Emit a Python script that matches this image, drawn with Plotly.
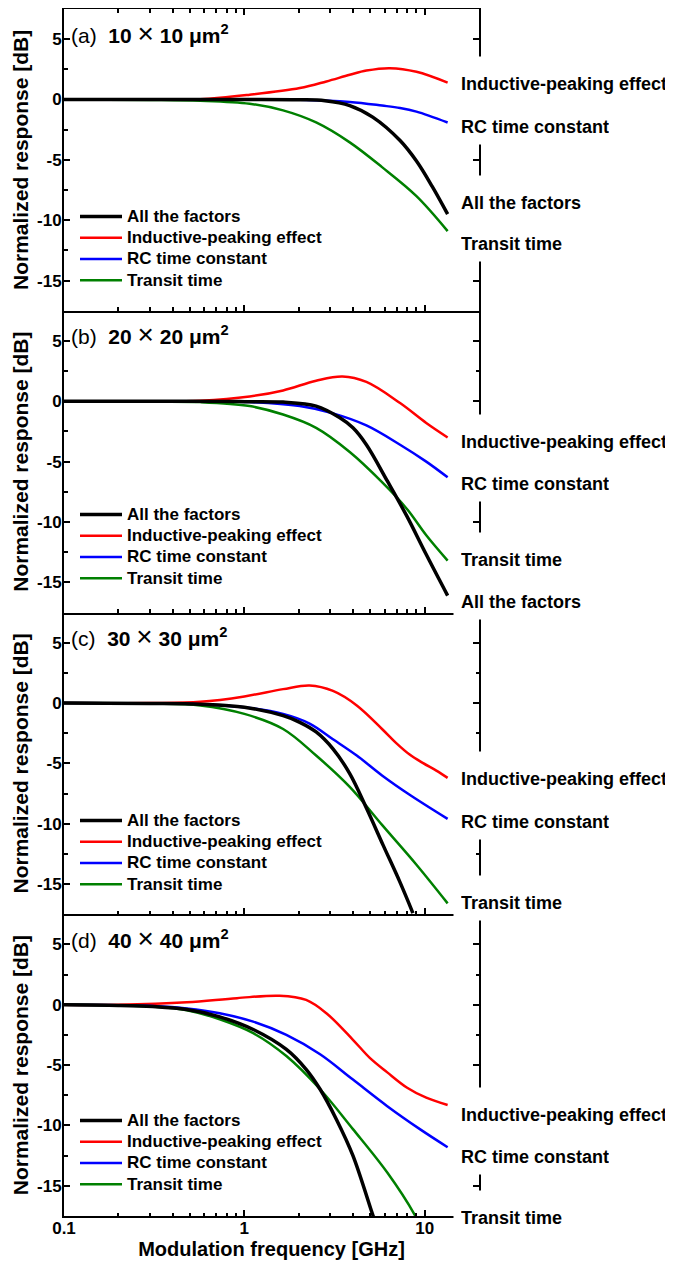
import math
import plotly.graph_objects as go

# ---------------- data ----------------
series_names = ["All the factors", "Inductive-peaking effect", "RC time constant", "Transit time"]
panel_tags = ["(a)", "(b)", "(c)", "(d)"]
panel_sizes = ["10", "20", "30", "40"]
x_tick_vals = [0.1, 1, 10]
x_tick_text = ["0.1", "1", "10"]
y_tick_vals = [-15, -10, -5, 0, 5]
y_tick_text = ["-15", "-10", "-5", "0", "5"]

# panel (a) 10x10 um^2
a_all_freq = [0.1, 0.3, 1.0, 2.0, 2.8, 3.84, 5.15, 7.3, 9.0, 11.0, 13.4]
a_all_db = [0.0, 0.0, 0.0, -0.02, -0.1, -0.5, -1.46, -3.4, -5.1, -7.2, -9.5]
a_ind_freq = [0.1, 0.3, 0.57, 1.07, 2.03, 2.85, 3.84, 4.75, 6.4, 9.0, 13.4]
a_ind_db = [0.0, 0.0, 0.02, 0.4, 0.95, 1.5, 2.05, 2.4, 2.6, 2.3, 1.4]
a_rc_freq = [0.1, 0.5, 1.0, 2.03, 3.84, 5.8, 7.3, 9.0, 13.4]
a_rc_db = [0.0, 0.0, 0.0, -0.02, -0.2, -0.5, -0.7, -1.0, -1.9]
a_tt_freq = [0.1, 0.3, 0.57, 1.07, 1.64, 2.5, 3.84, 5.8, 9.0, 13.4]
a_tt_db = [0.0, -0.03, -0.1, -0.35, -0.9, -1.9, -3.55, -5.6, -8.0, -10.9]

# panel (b) 20x20 um^2
b_all_freq = [0.1, 0.5, 1.0, 1.64, 2.5, 3.37, 4.0, 4.75, 6.2, 7.95, 10.2, 13.4]
b_all_db = [0.0, 0.0, -0.03, -0.07, -0.4, -1.35, -2.2, -3.6, -6.6, -9.5, -12.7, -16.1]
b_ind_freq = [0.1, 0.3, 0.57, 1.07, 1.64, 2.5, 3.5, 4.75, 7.3, 10.2, 13.4]
b_ind_db = [0.0, 0.0, 0.05, 0.4, 0.9, 1.7, 2.05, 1.6, -0.15, -1.8, -3.0]
b_rc_freq = [0.1, 0.5, 1.07, 2.03, 3.1, 4.75, 7.3, 10.2, 13.4]
b_rc_db = [0.0, -0.02, -0.07, -0.4, -1.0, -2.0, -3.6, -5.0, -6.3]
b_tt_freq = [0.1, 0.3, 0.57, 1.07, 1.64, 2.5, 3.84, 5.8, 7.95, 10.2, 13.4]
b_tt_db = [0.0, -0.03, -0.07, -0.4, -1.1, -2.2, -4.2, -6.7, -8.9, -11.1, -13.2]

# panel (c) 30x30 um^2
c_all_freq = [0.1, 0.3, 0.57, 1.0, 1.64, 2.03, 2.5, 3.1, 3.84, 4.75, 5.87, 7.27, 8.6]
c_all_db = [0.0, -0.03, -0.1, -0.35, -1.05, -1.6, -2.4, -3.8, -5.85, -8.7, -11.75, -14.8, -17.4]
c_ind_freq = [0.1, 0.3, 0.57, 1.0, 1.64, 2.3, 3.1, 4.2, 5.8, 6.93, 8.25, 9.8, 11.6, 13.4]
c_ind_db = [0.0, 0.0, 0.1, 0.55, 1.15, 1.45, 1.0, -0.2, -2.15, -3.3, -4.27, -4.98, -5.6, -6.2]
c_rc_freq = [0.1, 0.3, 0.57, 1.0, 1.64, 2.3, 3.1, 4.2, 5.8, 8.25, 13.4]
c_rc_db = [0.0, -0.03, -0.1, -0.35, -0.9, -1.7, -3.0, -4.35, -6.0, -7.6, -9.6]
c_tt_freq = [0.1, 0.3, 0.57, 1.0, 1.64, 2.5, 3.84, 5.8, 9.0, 13.4]
c_tt_db = [0.0, -0.05, -0.2, -0.9, -2.15, -4.35, -6.95, -10.1, -13.4, -16.6]

# panel (d) 40x40 um^2
d_all_freq = [0.1, 0.2, 0.31, 0.48, 0.73, 1.12, 1.71, 2.2, 2.63, 3.24, 4.0, 5.15, 5.3]
d_all_db = [0.0, -0.05, -0.15, -0.4, -1.0, -2.05, -3.7, -5.35, -7.0, -9.5, -12.5, -17.4, -17.9]
d_ind_freq = [0.1, 0.2, 0.48, 0.91, 1.57, 2.2, 2.85, 4.0, 4.96, 6.2, 7.95, 10.2, 13.4]
d_ind_db = [0.0, 0.0, 0.2, 0.55, 0.75, 0.4, -0.7, -2.9, -4.4, -5.6, -6.85, -7.7, -8.3]
d_rc_freq = [0.1, 0.2, 0.31, 0.48, 0.73, 1.12, 1.71, 2.63, 4.0, 6.2, 9.4, 13.4]
d_rc_db = [0.0, -0.03, -0.1, -0.3, -0.7, -1.4, -2.5, -4.1, -6.2, -8.4, -10.3, -11.8]
d_tt_freq = [0.1, 0.2, 0.31, 0.48, 0.73, 1.12, 1.71, 2.63, 4.0, 6.2, 8.8, 9.0]
d_tt_db = [0.0, -0.05, -0.15, -0.45, -1.2, -2.35, -4.25, -7.0, -10.3, -13.9, -17.4, -17.7]

panels = [
    {"all": (a_all_freq, a_all_db), "ind": (a_ind_freq, a_ind_db), "rc": (a_rc_freq, a_rc_db), "tt": (a_tt_freq, a_tt_db)},
    {"all": (b_all_freq, b_all_db), "ind": (b_ind_freq, b_ind_db), "rc": (b_rc_freq, b_rc_db), "tt": (b_tt_freq, b_tt_db)},
    {"all": (c_all_freq, c_all_db), "ind": (c_ind_freq, c_ind_db), "rc": (c_rc_freq, c_rc_db), "tt": (c_tt_freq, c_tt_db)},
    {"all": (d_all_freq, d_all_db), "ind": (d_ind_freq, d_ind_db), "rc": (d_rc_freq, d_rc_db), "tt": (d_tt_freq, d_tt_db)},
]

# end-of-curve labels (text, dB position) per panel
right_labels = [
    [("Inductive-peaking effect", 1.33), ("RC time constant", -2.24), ("All the factors", -8.53), ("Transit time", -11.93)],
    [("Inductive-peaking effect", -3.33), ("RC time constant", -6.78), ("Transit time", -13.13), ("All the factors", -16.59)],
    [("Inductive-peaking effect", -6.3), ("RC time constant", -9.83), ("Transit time", -16.51)],
    [("Inductive-peaking effect", -9.06), ("RC time constant", -12.6), ("Transit time", -17.67)],
]

# ---------------- styling ----------------
FONT = "Liberation Sans, Arial, Helvetica, sans-serif"
PAGE_OFF = 8                      # default body margin of the html page
W, H = 673 - PAGE_OFF, 1264 - PAGE_OFF
PL, PR, PT, PB = 64, 479, 9, 1216  # plot area in page pixels
ML, MR, MT, MB = PL - PAGE_OFF, W - (PR - PAGE_OFF), PT - PAGE_OFF, H - (PB - PAGE_OFF)
PW = PR - PL
PH = PB - PT
PANEL_H = PH / 4.0
PX_PER_DB = PANEL_H / 25.0

styles = {
    "all": dict(color="#000000", width=3.5, rank=1, name=series_names[0]),
    "ind": dict(color="#ff0000", width=2.5, rank=2, name=series_names[1]),
    "rc": dict(color="#0000ff", width=2.5, rank=3, name=series_names[2]),
    "tt": dict(color="#008000", width=2.5, rank=4, name=series_names[3]),
}
draw_order = ["ind", "rc", "tt", "all"]

fig = go.Figure()

legend_row1_px = [216, 514, 820, 1120]

for i, pdata in enumerate(panels):
    suf = "" if i == 0 else str(i + 1)
    leg = "legend" + suf
    for key in draw_order:
        st = styles[key]
        fx, fy = pdata[key]
        fig.add_trace(go.Scatter(
            x=fx, y=fy, mode="lines",
            line=dict(color=st["color"], width=st["width"], shape="spline", smoothing=1.0),
            name='<span style="font-size:17px">' + st["name"] + "</span>",
            legend=leg, legendrank=st["rank"],
            xaxis="x" + suf, yaxis="y" + suf,
            hoverinfo="skip",
        ))

layout = dict(
    width=W, height=H,
    margin=dict(l=ML, r=MR, t=MT, b=MB, pad=0, autoexpand=False),
    paper_bgcolor="white", plot_bgcolor="white",
    font=dict(family=FONT, color="black"),
    showlegend=True,
)

minor_x = [0.2, 0.3, 0.4, 0.5, 0.6, 0.7, 0.8, 0.9, 2, 3, 4, 5, 6, 7, 8, 9]
minor_y = [-17.5, -12.5, -7.5, -2.5, 2.5, 7.5]

annotations = []
x_lab = (452.5 - PL) / PW * (math.log10(20) + 1) - 1
for i in range(4):
    suf = "" if i == 0 else str(i + 1)
    top = 1 - i * 0.25
    bot = top - 0.25
    layout["yaxis" + suf] = dict(
        domain=[bot, top], anchor="x" + suf, automargin=False,
        range=[-17.5, 7.5],
        tickmode="array", tickvals=y_tick_vals, ticktext=y_tick_text,
        ticks="inside", ticklen=6, tickwidth=1.5, tickcolor="black",
        minor=dict(tickmode="array", tickvals=minor_y, ticks="inside", ticklen=3.5, tickwidth=1.5, tickcolor="black", showgrid=False),
        showline=True, linecolor="black", linewidth=2, mirror="ticks",
        showgrid=False, zeroline=False, ticklabelstandoff=-3,
        tickfont=dict(family=FONT, size=17, color="black", weight="bold"),
        title=dict(text="Normalized response [dB]", standoff=3,
                   font=dict(family=FONT, size=21, color="black", weight="bold")),
    )
    xa = dict(
        domain=[0, 1], anchor="y" + suf, automargin=False,
        type="log", range=[-1, math.log10(20)],
        tickmode="array", tickvals=x_tick_vals, ticktext=x_tick_text,
        ticks="inside", ticklen=6, tickwidth=1.5, tickcolor="black",
        minor=dict(tickmode="array", tickvals=minor_x, ticks="inside", ticklen=3.5, tickwidth=1.5, tickcolor="black", showgrid=False),
        showline=True, linecolor="black", linewidth=2,
        mirror="ticks" if i == 0 else False,
        showgrid=False, zeroline=False,
        showticklabels=(i == 3), ticklabelstandoff=-4,
        tickfont=dict(family=FONT, size=17, color="black", weight="bold"),
    )
    if i > 0:
        xa["matches"] = "x"
    if i == 3:
        xa["title"] = dict(text="Modulation frequency [GHz]", standoff=0,
                           font=dict(family=FONT, size=20, color="black", weight="bold"))
    layout["xaxis" + suf] = xa

    # legend for this panel
    top_px = legend_row1_px[i] - 15
    layout["legend" + suf] = dict(
        x=(75 - PL) / PW, xanchor="left",
        y=(PB - top_px) / PH, yanchor="top",
        bgcolor="rgba(0,0,0,0)", borderwidth=0,
        font=dict(family=FONT, size=14, color="black", weight="bold"),
        itemwidth=42, tracegroupgap=0, traceorder="normal",
    )

    # panel title
    annotations.append(dict(
        xref="paper", yref="y" + suf + " domain",
        x=(69 - PL) / PW, y=1 - 24 / PANEL_H,
        xanchor="left", yanchor="middle", showarrow=False,
        text=(panel_tags[i] + "&nbsp; <b>" + panel_sizes[i] + "</b>"
              + ' <span style="font-size:28px">×</span> '
              + "<b>" + panel_sizes[i] + " μm<sup>2</sup></b>"),
        font=dict(family=FONT, size=21, color="black"),
    ))

    # end-of-curve labels
    for txt, ydb in right_labels[i]:
        annotations.append(dict(
            xref="x" + suf, yref="y" + suf,
            x=x_lab, y=ydb + 4.6 / PX_PER_DB,
            xanchor="left", yanchor="middle", showarrow=False,
            text="<b>" + txt + "</b>",
            font=dict(family=FONT, size=18, color="black"),
            bgcolor="white", borderpad=7, height=30, valign="bottom",
        ))

layout["annotations"] = annotations
fig.update_layout(**layout)

fig.write_html("out.html")
